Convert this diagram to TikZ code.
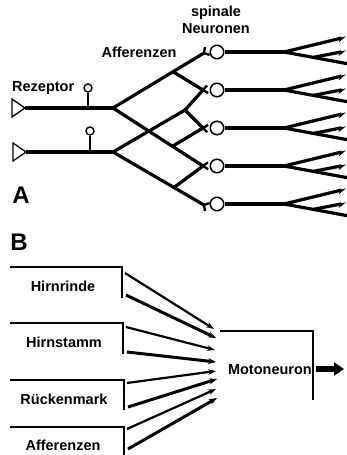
\documentclass[tikz,border=0pt]{standalone}
\usepackage{fontspec}
\setmainfont{Liberation Sans}
\usetikzlibrary{arrows.meta,calc}
\newcommand\synfork[2]{\draw[forkline] ($(#1)!6pt!130:(#2)$) -- (#1) -- ($(#1)!6pt!-130:(#2)$);}
\begin{document}
\begin{tikzpicture}[x=1pt,y=-1pt,
  lbl/.style={font=\fontsize{14.5}{17}\selectfont\bfseries, inner sep=0pt},
  big/.style={font=\fontsize{24}{26}\selectfont\bfseries, inner sep=0pt},
  fib/.style={line width=3.2pt},
  forkline/.style={line width=2.4pt, line join=round},
  neuron/.style={circle, draw, line width=1.5pt, minimum size=13.5pt, inner sep=0pt, fill=white},
  knob/.style={circle, draw, line width=1.4pt, minimum size=8pt, inner sep=0pt, fill=white},
  boxline/.style={line width=2.2pt},
  thinarr/.style={line width=2.2pt, -{Stealth[length=8pt,width=5.5pt]}},
  thickarr/.style={line width=3pt, -{Stealth[length=8pt,width=6pt]}},
  outtip/.style={-{Stealth[harpoon,swap,length=7pt,width=7pt]}}
]
\useasboundingbox (0,0) rectangle (347,455);

% ---------- Part A ----------
\node[big] (labA) at (21,195) {A};
\node[lbl, anchor=west] (rez) at (12,88) {Rezeptor};
\node[lbl] (aff) at (139,52) {Afferenzen};
\node[lbl, align=center] (spn) at (216,20) {spinale\\Neuronen};

% receptors
\draw[line width=1.3pt, line join=miter] (12,99) -- (25,108) -- (12,117) -- cycle;
\draw[line width=1.3pt, line join=miter] (13,143) -- (26,152) -- (13,161) -- cycle;
\coordinate (R1) at (25,108);
\coordinate (R2) at (26,152);
\coordinate (A1) at (113,108);
\coordinate (A2) at (113,152);
\draw[fib] (R1) -- (A1);
\draw[fib] (R2) -- (A2);

% small knobs
\coordinate (s1) at (88,108);
\coordinate (s2) at (90,152);
\node[knob] (k1) at (88,88) {};
\node[knob] (k2) at (90,131) {};
\draw[line width=1.5pt] (s1) -- (k1);
\draw[line width=1.5pt] (s2) -- (k2);

% spinal neurons
\foreach \i/\y in {1/52,2/90,3/128,4/166,5/204}{
  \node[neuron] (N\i) at (217,\y) {};
}

% terminals and branch points
\coordinate (T1) at (204,53);
\coordinate (P2) at (203,90);
\coordinate (P3) at (203,128);
\coordinate (P4) at (203,166);
\coordinate (T5) at (204,205);
\coordinate (U1) at ($(A1)!0.66!(T1)$);
\coordinate (D1) at ($(A1)!0.66!(P4)$);
\coordinate (B1) at (185,110);
\coordinate (D2) at ($(A2)!0.67!(T5)$);

\draw[fib] (A1) -- (U1) -- (T1);
\draw[fib] (A1) -- (D1) -- (P4);
\draw[fib] (A2) -- (B1);
\draw[fib] (A2) -- (D2) -- (T5);

% inputs that meet and cross in front of a neuron
\draw[forkline] (U1) -- ($(P2)!-6pt!(U1)$);
\draw[fib] (U1) -- (P2);
\draw[forkline] (B1) -- ($(P2)!-6pt!(B1)$);
\draw[fib] (B1) -- (P2);
\draw[forkline] (B1) -- ($(P3)!-6pt!(B1)$);
\draw[fib] (B1) -- (P3);
\draw[forkline] (D1) -- ($(P3)!-6pt!(D1)$);
\draw[fib] (D1) -- (P3);
\draw[forkline] (D1) -- ($(P4)!-6pt!(D1)$);
\draw[forkline] (D2) -- ($(P4)!-6pt!(D2)$);
\draw[fib] (D2) -- (P4);

\synfork{T1}{U1}
\synfork{T5}{D2}

% output branches
\foreach \i/\y in {1/52,2/90,3/128,4/166,5/204}{
  \coordinate (F\i) at (284,\y);
  \coordinate (Eu\i) at (346,\y-15);
  \coordinate (El\i) at (349,\y+12);
  \coordinate (Em\i) at (346,\y-1);
  \coordinate (M\i) at ($(F\i)!0.45!(El\i)$);
  \draw[fib] (N\i.east) -- (F\i);
  \draw[fib, outtip] (F\i) -- (Eu\i);
  \draw[fib] (F\i) -- (El\i);
  \draw[fib, outtip] (M\i) -- (Em\i);
}

% ---------- Part B ----------
\node[big] (labB) at (19,242) {B};

\node[lbl] (hr) at (63,286) {Hirnrinde};
\node[lbl] (hs) at (64,342) {Hirnstamm};
\node[lbl] (rm) at (64,399) {Rückenmark};
\node[lbl] (af) at (63,445) {Afferenzen};

\draw[boxline] (10,267) -- (122,267) -- (122,298);
\draw[boxline] (10,323) -- (123,323) -- (123,354);
\draw[boxline] (10,380) -- (124,380) -- (124,410);
\draw[boxline] (10,427) -- (124,427) -- (124,456);

\node[lbl, anchor=east] (mn) at (312,370) {Motoneuron};
\draw[boxline] (220,331) -- (313,331) -- (313,400);

\coordinate (a1s) at (125,273); \coordinate (a1e) at (214,329);
\coordinate (a2s) at (126,295); \coordinate (a2e) at (216,338);
\coordinate (a3s) at (126,327); \coordinate (a3e) at (215,350);
\coordinate (a4s) at (127,352); \coordinate (a4e) at (216,362);
\coordinate (a5s) at (127,383); \coordinate (a5e) at (216,371);
\coordinate (a6s) at (128,407); \coordinate (a6e) at (217,379);
\coordinate (a7s) at (127,429); \coordinate (a7e) at (216,389);
\coordinate (a8s) at (128,449); \coordinate (a8e) at (217,398);

\draw[thinarr] (a1s) -- (a1e);
\draw[thickarr] (a2s) -- (a2e);
\draw[thinarr] (a3s) -- (a3e);
\draw[thickarr] (a4s) -- (a4e);
\draw[thinarr] (a5s) -- (a5e);
\draw[thickarr] (a6s) -- (a6e);
\draw[thinarr] (a7s) -- (a7e);
\draw[thickarr] (a8s) -- (a8e);

\coordinate (o1) at (316,369);
\coordinate (o2) at (344,369);
\draw[line width=6pt, -{Triangle[length=10pt,width=13pt]}] (o1) -- (o2);
\end{tikzpicture}
\end{document}
